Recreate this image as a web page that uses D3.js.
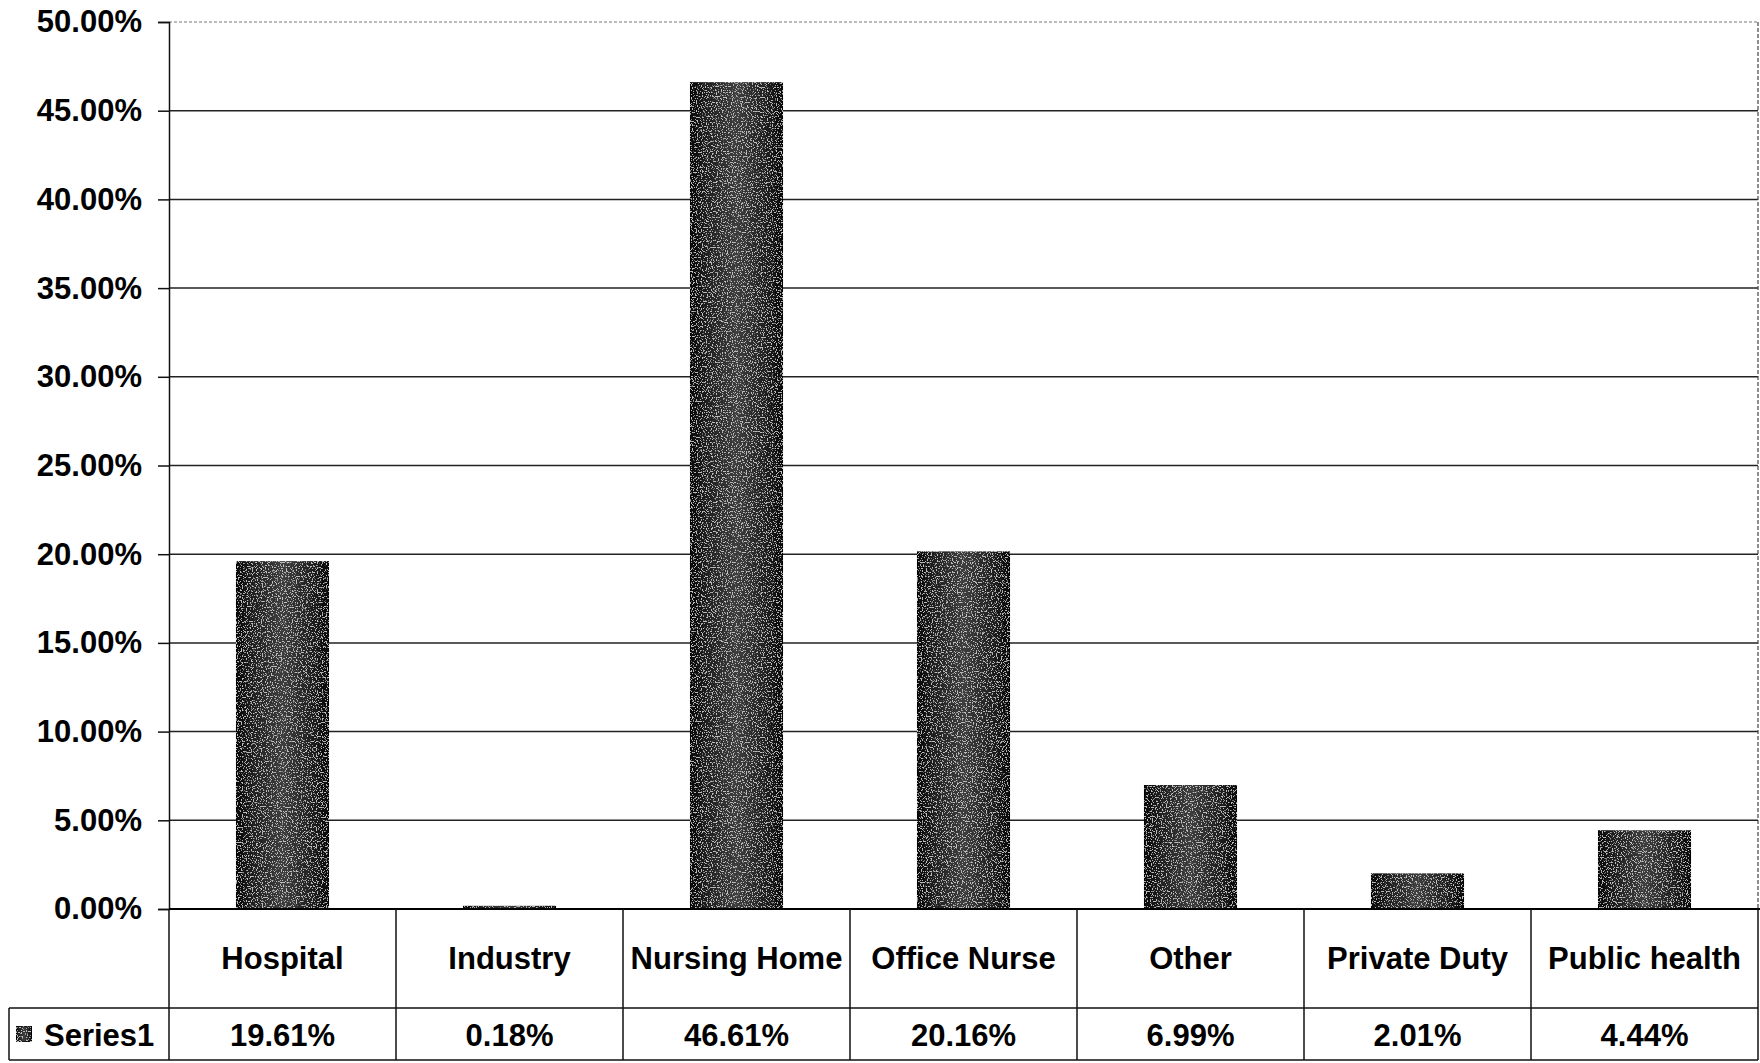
<!DOCTYPE html>
<html>
<head>
<meta charset="utf-8">
<script src="https://cdn.jsdelivr.net/npm/d3@7"></script>
<style>
  html, body { margin: 0; padding: 0; background: #fff; }
  svg { display: block; }
  text { font-family: "Liberation Sans", Arial, sans-serif; font-weight: bold; fill: #000; }
</style>
</head>
<body>
<svg id="chart" width="1760" height="1063"></svg>
<script>
const categories = ["Hospital", "Industry", "Nursing Home", "Office Nurse", "Other", "Private Duty", "Public health"];
const values = [19.61, 0.18, 46.61, 20.16, 6.99, 2.01, 4.44];
const yTicks = [0, 5, 10, 15, 20, 25, 30, 35, 40, 45, 50];
const seriesName = "Series1";

const W = 1760, H = 1063;
const plotLeft = 169, plotRight = 1758, plotTop = 22, plotBottom = 909;
const row1Bottom = 1008, row2Bottom = 1060, tableLeft = 9;

const svg = d3.select("#chart");
const defs = svg.append("defs");

const grad = defs.append("linearGradient").attr("id", "barGrad").attr("x1", "0").attr("x2", "1").attr("y1", "0").attr("y2", "0");
grad.append("stop").attr("offset", "0").attr("stop-color", "#050505");
grad.append("stop").attr("offset", "0.15").attr("stop-color", "#1c1c1c");
grad.append("stop").attr("offset", "0.5").attr("stop-color", "#3e3e3e");
grad.append("stop").attr("offset", "0.85").attr("stop-color", "#1c1c1c");
grad.append("stop").attr("offset", "1").attr("stop-color", "#050505");

const f = defs.append("filter").attr("id", "speckle").attr("x", "0").attr("y", "0").attr("width", "1").attr("height", "1");
f.append("feTurbulence").attr("type", "fractalNoise").attr("baseFrequency", "0.8").attr("numOctaves", "1").attr("seed", "3").attr("result", "noise");
f.append("feColorMatrix").attr("in", "noise").attr("type", "matrix")
  .attr("values", "0 0 0 0 1  0 0 0 0 1  0 0 0 0 1  0 0 0 -14 6.1").attr("result", "dots");
f.append("feComposite").attr("in", "dots").attr("in2", "SourceGraphic").attr("operator", "in").attr("result", "dotsIn");
f.append("feComponentTransfer").attr("in", "dotsIn").attr("result", "dotsSoft")
  .append("feFuncA").attr("type", "linear").attr("slope", "0.5");
const m = f.append("feMerge");
m.append("feMergeNode").attr("in", "SourceGraphic");
m.append("feMergeNode").attr("in", "dotsSoft");

const x = d3.scaleBand().domain(categories).range([plotLeft, plotRight]).paddingInner(0.59).paddingOuter(0.295);
const y = d3.scaleLinear().domain([0, 50]).range([plotBottom, plotTop]);

// gridlines
svg.append("g").selectAll("line").data(yTicks.filter(d => d > 0)).join("line")
  .attr("x1", plotLeft).attr("x2", plotRight)
  .attr("y1", d => y(d)).attr("y2", d => y(d))
  .attr("stroke", d => d === 50 ? "#777" : "#222")
  .attr("stroke-width", d => d === 50 ? 1 : 1.5)
  .attr("stroke-dasharray", d => d === 50 ? "3,2" : null);

// right border
svg.append("line").attr("x1", plotRight).attr("x2", plotRight).attr("y1", plotTop).attr("y2", plotBottom)
  .attr("stroke", "#444").attr("stroke-width", 1.2).attr("stroke-dasharray", "4,2");

// bars
svg.append("g").selectAll("rect").data(values).join("rect")
  .attr("x", (d, i) => x(categories[i]))
  .attr("width", x.bandwidth())
  .attr("y", d => y(d))
  .attr("height", d => y(0) - y(d))
  .attr("fill", "url(#barGrad)")
  .attr("filter", "url(#speckle)");

// y axis
const yAxis = d3.axisLeft(y).tickValues(yTicks).tickFormat(d => d.toFixed(2) + "%").tickSize(11).tickPadding(16);
const ga = svg.append("g").attr("transform", `translate(${plotLeft},0)`).call(yAxis);
ga.select(".domain").attr("stroke", "#111").attr("stroke-width", 1.5);
ga.selectAll(".tick line").attr("stroke", "#111").attr("stroke-width", 1.5);
ga.selectAll(".tick text").style("font-size", "31px").style("font-family", "'Liberation Sans', Arial, sans-serif").style("font-weight", "bold").attr("fill", "#000");

// baseline
svg.append("line").attr("x1", plotLeft).attr("x2", plotRight + 2).attr("y1", y(0)).attr("y2", y(0))
  .attr("stroke", "#000").attr("stroke-width", 2);

// data table
const gap = (x.step() - x.bandwidth()) / 2;
const colLeft = c => x(c) - gap;
const tbl = svg.append("g").attr("stroke", "#111").attr("stroke-width", 1.5);
tbl.selectAll("line.v").data(categories).join("line").attr("class", "v")
  .attr("x1", c => colLeft(c)).attr("x2", c => colLeft(c))
  .attr("y1", plotBottom).attr("y2", row2Bottom);
tbl.append("line").attr("x1", plotRight).attr("x2", plotRight).attr("y1", plotBottom).attr("y2", row2Bottom);
tbl.append("line").attr("x1", tableLeft).attr("x2", plotRight).attr("y1", row1Bottom).attr("y2", row1Bottom);
tbl.append("line").attr("x1", tableLeft).attr("x2", plotRight).attr("y1", row2Bottom).attr("y2", row2Bottom);
tbl.append("line").attr("x1", tableLeft).attr("x2", tableLeft).attr("y1", row1Bottom).attr("y2", row2Bottom);

svg.append("g").selectAll("text").data(categories).join("text")
  .attr("x", c => x(c) + x.bandwidth() / 2)
  .attr("y", (plotBottom + row1Bottom) / 2)
  .attr("text-anchor", "middle").attr("dominant-baseline", "central")
  .style("font-size", "31px")
  .text(c => c);

svg.append("g").selectAll("text").data(values).join("text")
  .attr("x", (d, i) => x(categories[i]) + x.bandwidth() / 2)
  .attr("y", (row1Bottom + row2Bottom) / 2 + 1)
  .attr("text-anchor", "middle").attr("dominant-baseline", "central")
  .style("font-size", "31px")
  .text(d => d.toFixed(2) + "%");

// legend key + series name
svg.append("rect").attr("x", 16).attr("y", (row1Bottom + row2Bottom) / 2 - 8).attr("width", 16).attr("height", 16)
  .attr("fill", "url(#barGrad)").attr("filter", "url(#speckle)").attr("stroke", "#000").attr("stroke-width", 1);
svg.append("text").attr("x", 44).attr("y", (row1Bottom + row2Bottom) / 2 + 1)
  .attr("dominant-baseline", "central").style("font-size", "31px").text(seriesName);
</script>
</body>
</html>
